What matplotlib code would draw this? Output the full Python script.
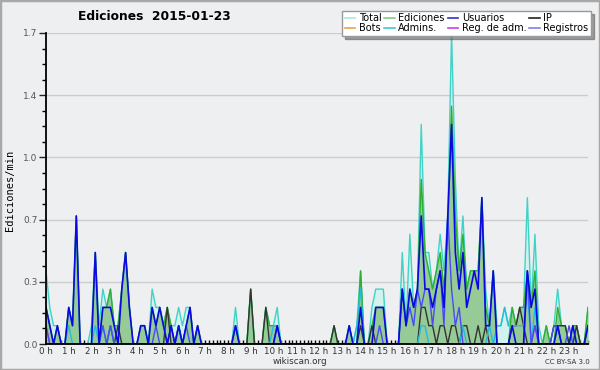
import matplotlib

matplotlib.use("Agg")
import matplotlib.pyplot as plt
import numpy as np
from matplotlib.lines import Line2D
from matplotlib.patches import Rectangle

# 10-minute bins, values in edits/min (6 per hour, one row per hour)
total = [
    0.4, 0.2, 0.1, 0.1, 0.0, 0.0,
    0.2, 0.1, 0.7, 0.0, 0.0, 0.0,
    0.1, 0.5, 0.1, 0.3, 0.2, 0.3,
    0.1, 0.1, 0.3, 0.5, 0.2, 0.0,
    0.0, 0.1, 0.1, 0.0, 0.3, 0.2,
    0.2, 0.1, 0.2, 0.1, 0.1, 0.2,
    0.1, 0.2, 0.2, 0.0, 0.1, 0.0,
    0.0, 0.0, 0.0, 0.0, 0.0, 0.0,
    0.0, 0.0, 0.2, 0.0, 0.0, 0.0,
    0.3, 0.0, 0.0, 0.0, 0.2, 0.1,
    0.1, 0.2, 0.0, 0.0, 0.0, 0.0,
    0.0, 0.0, 0.0, 0.0, 0.0, 0.0,
    0.0, 0.0, 0.0, 0.0, 0.1, 0.0,
    0.0, 0.0, 0.1, 0.0, 0.1, 0.4,
    0.0, 0.0, 0.2, 0.3, 0.3, 0.3,
    0.0, 0.0, 0.0, 0.0, 0.5, 0.1,
    0.6, 0.2, 0.3, 1.2, 0.5, 0.5,
    0.3, 0.4, 0.6, 0.4, 0.7, 1.7,
    0.9, 0.4, 0.7, 0.3, 0.4, 0.4,
    0.4, 0.8, 0.3, 0.1, 0.4, 0.1,
    0.1, 0.2, 0.1, 0.2, 0.1, 0.2,
    0.2, 0.8, 0.2, 0.6, 0.1, 0.0,
    0.1, 0.0, 0.1, 0.3, 0.1, 0.1,
    0.0, 0.1, 0.1, 0.0, 0.0, 0.2,
]
ediciones = [
    0.2, 0.1, 0.0, 0.1, 0.0, 0.0,
    0.2, 0.1, 0.7, 0.0, 0.0, 0.0,
    0.0, 0.5, 0.0, 0.2, 0.2, 0.3,
    0.1, 0.1, 0.3, 0.5, 0.2, 0.0,
    0.0, 0.1, 0.1, 0.0, 0.2, 0.1,
    0.2, 0.1, 0.2, 0.1, 0.0, 0.1,
    0.0, 0.1, 0.2, 0.0, 0.1, 0.0,
    0.0, 0.0, 0.0, 0.0, 0.0, 0.0,
    0.0, 0.0, 0.1, 0.0, 0.0, 0.0,
    0.3, 0.0, 0.0, 0.0, 0.2, 0.1,
    0.1, 0.1, 0.0, 0.0, 0.0, 0.0,
    0.0, 0.0, 0.0, 0.0, 0.0, 0.0,
    0.0, 0.0, 0.0, 0.0, 0.1, 0.0,
    0.0, 0.0, 0.1, 0.0, 0.0, 0.4,
    0.0, 0.0, 0.1, 0.2, 0.2, 0.2,
    0.0, 0.0, 0.0, 0.0, 0.3, 0.1,
    0.3, 0.2, 0.3, 0.9, 0.5, 0.4,
    0.3, 0.4, 0.5, 0.3, 0.6, 1.3,
    0.7, 0.4, 0.6, 0.3, 0.4, 0.4,
    0.4, 0.8, 0.2, 0.1, 0.4, 0.0,
    0.0, 0.0, 0.0, 0.2, 0.1, 0.2,
    0.2, 0.4, 0.2, 0.4, 0.0, 0.0,
    0.1, 0.0, 0.0, 0.2, 0.1, 0.1,
    0.0, 0.1, 0.1, 0.0, 0.0, 0.2,
]
usuarios = [
    0.2, 0.1, 0.0, 0.1, 0.0, 0.0,
    0.2, 0.1, 0.7, 0.0, 0.0, 0.0,
    0.0, 0.5, 0.0, 0.2, 0.2, 0.2,
    0.1, 0.0, 0.3, 0.5, 0.2, 0.0,
    0.0, 0.1, 0.1, 0.0, 0.2, 0.1,
    0.2, 0.1, 0.0, 0.1, 0.0, 0.1,
    0.0, 0.1, 0.2, 0.0, 0.1, 0.0,
    0.0, 0.0, 0.0, 0.0, 0.0, 0.0,
    0.0, 0.0, 0.1, 0.0, 0.0, 0.0,
    0.0, 0.0, 0.0, 0.0, 0.0, 0.0,
    0.0, 0.1, 0.0, 0.0, 0.0, 0.0,
    0.0, 0.0, 0.0, 0.0, 0.0, 0.0,
    0.0, 0.0, 0.0, 0.0, 0.0, 0.0,
    0.0, 0.0, 0.1, 0.0, 0.0, 0.2,
    0.0, 0.0, 0.0, 0.2, 0.2, 0.2,
    0.0, 0.0, 0.0, 0.0, 0.3, 0.1,
    0.3, 0.2, 0.3, 0.7, 0.3, 0.3,
    0.2, 0.3, 0.4, 0.2, 0.7, 1.2,
    0.5, 0.3, 0.5, 0.2, 0.3, 0.4,
    0.3, 0.8, 0.1, 0.1, 0.4, 0.0,
    0.0, 0.0, 0.0, 0.1, 0.0, 0.0,
    0.0, 0.4, 0.2, 0.3, 0.0, 0.0,
    0.0, 0.0, 0.0, 0.1, 0.0, 0.0,
    0.0, 0.1, 0.0, 0.0, 0.0, 0.1,
]
ip = [
    0.0, 0.0, 0.0, 0.0, 0.0, 0.0,
    0.0, 0.0, 0.0, 0.0, 0.0, 0.0,
    0.0, 0.0, 0.0, 0.0, 0.0, 0.1,
    0.0, 0.1, 0.0, 0.0, 0.0, 0.0,
    0.0, 0.0, 0.0, 0.0, 0.0, 0.0,
    0.0, 0.0, 0.2, 0.0, 0.0, 0.0,
    0.0, 0.0, 0.0, 0.0, 0.0, 0.0,
    0.0, 0.0, 0.0, 0.0, 0.0, 0.0,
    0.0, 0.0, 0.0, 0.0, 0.0, 0.0,
    0.3, 0.0, 0.0, 0.0, 0.2, 0.0,
    0.0, 0.0, 0.0, 0.0, 0.0, 0.0,
    0.0, 0.0, 0.0, 0.0, 0.0, 0.0,
    0.0, 0.0, 0.0, 0.0, 0.1, 0.0,
    0.0, 0.0, 0.0, 0.0, 0.0, 0.1,
    0.0, 0.0, 0.1, 0.0, 0.0, 0.0,
    0.0, 0.0, 0.0, 0.0, 0.0, 0.0,
    0.0, 0.0, 0.0, 0.2, 0.2, 0.1,
    0.1, 0.0, 0.1, 0.1, 0.0, 0.1,
    0.1, 0.0, 0.1, 0.1, 0.0, 0.0,
    0.1, 0.0, 0.1, 0.0, 0.0, 0.0,
    0.0, 0.0, 0.0, 0.1, 0.1, 0.2,
    0.1, 0.0, 0.0, 0.0, 0.0, 0.0,
    0.0, 0.0, 0.1, 0.1, 0.1, 0.1,
    0.0, 0.0, 0.1, 0.0, 0.0, 0.1,
]
admins = [
    0.0, 0.0, 0.0, 0.0, 0.0, 0.0,
    0.1, 0.0, 0.0, 0.0, 0.0, 0.0,
    0.0, 0.1, 0.0, 0.1, 0.0, 0.1,
    0.0, 0.0, 0.0, 0.0, 0.0, 0.0,
    0.0, 0.0, 0.0, 0.0, 0.0, 0.0,
    0.0, 0.0, 0.0, 0.0, 0.0, 0.1,
    0.0, 0.0, 0.0, 0.0, 0.0, 0.0,
    0.0, 0.0, 0.0, 0.0, 0.0, 0.0,
    0.0, 0.0, 0.0, 0.0, 0.0, 0.0,
    0.0, 0.0, 0.0, 0.0, 0.0, 0.0,
    0.1, 0.1, 0.0, 0.0, 0.0, 0.0,
    0.0, 0.0, 0.0, 0.0, 0.0, 0.0,
    0.0, 0.0, 0.0, 0.0, 0.0, 0.0,
    0.0, 0.0, 0.0, 0.0, 0.1, 0.3,
    0.0, 0.0, 0.0, 0.0, 0.0, 0.0,
    0.0, 0.0, 0.0, 0.0, 0.0, 0.0,
    0.0, 0.0, 0.0, 0.1, 0.1, 0.0,
    0.0, 0.0, 0.0, 0.0, 0.0, 0.0,
    0.0, 0.0, 0.1, 0.0, 0.0, 0.0,
    0.0, 0.0, 0.0, 0.1, 0.0, 0.1,
    0.1, 0.2, 0.1, 0.1, 0.1, 0.1,
    0.1, 0.3, 0.0, 0.2, 0.0, 0.0,
    0.0, 0.0, 0.0, 0.1, 0.0, 0.0,
    0.0, 0.0, 0.0, 0.0, 0.0, 0.0,
]
registros = [
    0.1, 0.0, 0.0, 0.0, 0.0, 0.0,
    0.0, 0.0, 0.0, 0.0, 0.0, 0.0,
    0.0, 0.0, 0.0, 0.1, 0.0, 0.1,
    0.0, 0.0, 0.0, 0.0, 0.0, 0.0,
    0.0, 0.0, 0.0, 0.0, 0.0, 0.1,
    0.0, 0.0, 0.0, 0.1, 0.0, 0.1,
    0.0, 0.1, 0.0, 0.0, 0.0, 0.0,
    0.0, 0.0, 0.0, 0.0, 0.0, 0.0,
    0.0, 0.0, 0.1, 0.0, 0.0, 0.0,
    0.0, 0.0, 0.0, 0.0, 0.0, 0.0,
    0.0, 0.1, 0.0, 0.0, 0.0, 0.0,
    0.0, 0.0, 0.0, 0.0, 0.0, 0.0,
    0.0, 0.0, 0.0, 0.0, 0.0, 0.0,
    0.0, 0.0, 0.0, 0.0, 0.0, 0.0,
    0.0, 0.0, 0.0, 0.0, 0.1, 0.0,
    0.0, 0.0, 0.0, 0.0, 0.3, 0.1,
    0.2, 0.1, 0.3, 0.2, 0.3, 0.3,
    0.1, 0.3, 0.4, 0.1, 0.7, 0.3,
    0.1, 0.2, 0.0, 0.0, 0.0, 0.0,
    0.0, 0.0, 0.0, 0.0, 0.0, 0.0,
    0.0, 0.0, 0.0, 0.0, 0.0, 0.0,
    0.0, 0.4, 0.0, 0.1, 0.0, 0.0,
    0.0, 0.0, 0.1, 0.1, 0.0, 0.0,
    0.1, 0.0, 0.0, 0.0, 0.0, 0.0,
]
reg_adm = [
    0.1, 0.0, 0.0, 0.0, 0.0, 0.0,
] + [0.0] * 123 + [0.1] + [0.0] * 14

hour_labels = [f"{h} h" for h in range(24)]
y_max = 1.7

BG = "#eeeff1"
x = np.arange(len(total))

fig = plt.figure(figsize=(6, 3.7), dpi=100, facecolor=BG)
ax = fig.add_axes([46 / 600, 26 / 370, 542 / 600, 311 / 370])
ax.set_facecolor(BG)

ax.fill_between(x, total, color="#d2f2ee", lw=0, zorder=2)
ax.fill_between(x, ediciones, color="#96ca96", lw=0, zorder=3)
ax.plot(x, total, color="#3fd3c6", lw=1.0, zorder=4)
ax.plot(x, ediciones, color="#2fae2f", lw=1.0, zorder=5)
ax.plot(x, ip, color="#333333", lw=1.0, zorder=6)
ax.plot(x, admins, color="#22bde0", lw=1.0, zorder=7)
ax.plot(x, reg_adm, color="#cc33cc", lw=1.0, zorder=7)
ax.plot(x, registros, color="#4a4af5", lw=1.0, zorder=8)
ax.plot(x, usuarios, color="#0a0ae0", lw=1.2, zorder=9)

ax.set_xlim(0, len(total) - 1)
ax.set_ylim(0, y_max)
yt = np.linspace(0, y_max, 6)
ax.set_yticks(yt)
ax.set_yticklabels([f"{v:.1f}" for v in yt])
ax.set_yticks(np.linspace(0, y_max, 21), minor=True)
ax.set_xticks(np.arange(0, 144, 6))
ax.set_xticklabels(hour_labels)
ax.set_xticks(np.arange(0, 144), minor=True)
ax.grid(axis="y", color="#cccccc", lw=1.0, zorder=1)
ax.set_axisbelow(True)

ax.tick_params(axis="y", which="major", direction="out", length=5, width=1,
               labelsize=6.5, colors="#222222", labelcolor="#555555", pad=1)
ax.tick_params(axis="y", which="minor", direction="out", length=3, width=1)
ax.tick_params(axis="x", which="both", direction="in", length=3, width=1,
               labelsize=6.3, labelcolor="#333333", pad=2)
for s in ["top", "right"]:
    ax.spines[s].set_visible(False)
for s in ["left", "bottom"]:
    ax.spines[s].set_linewidth(1.3)
    ax.spines[s].set_zorder(10)

fig.text(154 / 600, 1 - 17 / 370, "Ediciones  2015-01-23", ha="center", va="center",
         fontsize=8.8, fontweight="bold")
fig.text(10 / 600, 1 - 190 / 370, "Ediciones/min", rotation=90, ha="center", va="center",
         fontsize=7.5, family="DejaVu Sans Mono")
fig.text(300 / 600, 1 - 361 / 370, "wikiscan.org", ha="center", va="center", fontsize=6.3,
         color="#333333")
fig.text(590 / 600, 1 - 362 / 370, "CC BY-SA 3.0", ha="right", va="center", fontsize=5,
         color="#333333")

names = ["Total", "Bots", "Ediciones", "Admins.", "Usuarios", "Reg. de adm.", "IP", "Registros"]
cols = ["#a8e6de", "#f0a040", "#88cc88", "#40c8d8", "#3434d0", "#cc44dd", "#222222", "#8080ee"]
handles = [Line2D([], [], color=c, lw=1.2) for c in cols]
leg = fig.legend(handles, names, ncol=4, loc="upper right", bbox_to_anchor=(591 / 600, 1 - 11 / 370),
                 fontsize=7, frameon=True, shadow=True, fancybox=False, handlelength=1.1,
                 handletextpad=0.35, columnspacing=0.3, labelspacing=0.0, borderpad=0.25,
                 borderaxespad=0)
leg.get_frame().set_edgecolor("#999999")
leg.get_frame().set_linewidth(1.0)

fig.patches.append(Rectangle((0, 0), 1, 1, transform=fig.transFigure, fill=False,
                             edgecolor="#a8a8a8", lw=2.5))

fig.savefig("out.png", dpi=100, facecolor=BG)
